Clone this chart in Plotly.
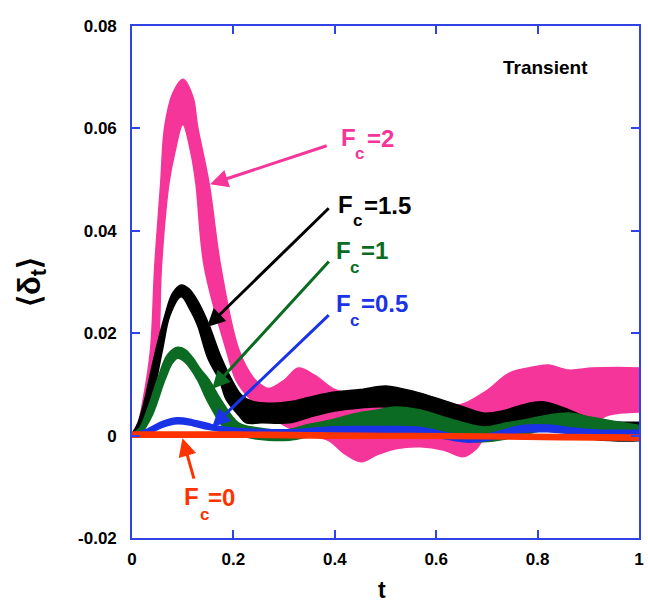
import plotly.graph_objects as go

# ---- envelopes of <delta_t> for each critical force Fc (upper / lower edges) ----
fc2_up_t = [0, 0.012, 0.022, 0.0365, 0.0449, 0.0566, 0.0645, 0.0807, 0.1003, 0.12, 0.1295, 0.152, 0.175, 0.211, 0.24, 0.256, 0.27, 0.3, 0.328, 0.36, 0.4, 0.451, 0.49, 0.55, 0.59, 0.646, 0.7, 0.744, 0.797, 0.822, 0.861, 0.908, 0.96, 1.0]
fc2_up_v = [0, 0.0025, 0.007, 0.0167, 0.033, 0.0493, 0.0603, 0.0669, 0.0696, 0.0662, 0.0603, 0.0493, 0.033, 0.0167, 0.0112, 0.0098, 0.0092, 0.0108, 0.0132, 0.0118, 0.009, 0.0075, 0.0068, 0.0068, 0.0069, 0.006, 0.0088, 0.0122, 0.0135, 0.0138, 0.0128, 0.0132, 0.0133, 0.0132]
fc2_lo_t = [0, 0.025, 0.034, 0.0514, 0.058, 0.0729, 0.084, 0.1003, 0.1165, 0.126, 0.1426, 0.186, 0.205, 0.23, 0.26, 0.3, 0.35, 0.387, 0.419, 0.452, 0.484, 0.523, 0.569, 0.614, 0.654, 0.68, 0.693, 0.745, 0.8, 0.86, 0.91, 0.94, 1.0]
fc2_lo_v = [0, 0.0025, 0.007, 0.0167, 0.033, 0.0493, 0.0551, 0.0607, 0.0551, 0.0493, 0.033, 0.0167, 0.0109, 0.0075, 0.005, 0.002, 0.0, -0.0009, -0.0035, -0.0051, -0.0037, -0.0025, -0.0022, -0.0028, -0.0041, -0.0025, -0.0009, 0.0004, 0.001, 0.0014, 0.0025, 0.004, 0.0046]

fc15_up_t = [0, 0.012, 0.025, 0.035, 0.047, 0.065, 0.08, 0.097, 0.112, 0.13, 0.152, 0.175, 0.197, 0.217, 0.24, 0.27, 0.31, 0.35, 0.4, 0.45, 0.5, 0.53, 0.569, 0.61, 0.654, 0.693, 0.73, 0.77, 0.81, 0.85, 0.9, 0.95, 1.0]
fc15_up_v = [0.0004, 0.0025, 0.007, 0.0115, 0.0167, 0.0235, 0.0278, 0.0294, 0.0287, 0.0262, 0.0216, 0.0155, 0.0109, 0.0078, 0.0066, 0.0063, 0.0066, 0.0075, 0.0085, 0.009, 0.0097, 0.0092, 0.0083, 0.007, 0.0056, 0.0044, 0.0048, 0.006, 0.0066, 0.0055, 0.0035, 0.0027, 0.0026]
fc15_lo_t = [0, 0.02, 0.035, 0.06, 0.075, 0.097, 0.115, 0.129, 0.15, 0.172, 0.186, 0.21, 0.225, 0.256, 0.31, 0.35, 0.4, 0.45, 0.5, 0.55, 0.6, 0.654, 0.693, 0.75, 0.8, 0.85, 0.9, 0.95, 1.0]
fc15_lo_v = [0, 0.001, 0.005, 0.0167, 0.0235, 0.0271, 0.0245, 0.0216, 0.015, 0.0109, 0.007, 0.004, 0.0025, 0.0025, 0.0025, 0.0036, 0.0048, 0.0054, 0.0056, 0.0045, 0.003, 0.0017, 0.0017, 0.0022, 0.0027, 0.0015, -0.0005, -0.001, -0.001]

fc1_up_t = [0, 0.015, 0.03, 0.05, 0.07, 0.09, 0.105, 0.12, 0.135, 0.152, 0.176, 0.21, 0.25, 0.28, 0.31, 0.35, 0.39, 0.45, 0.484, 0.52, 0.569, 0.61, 0.654, 0.693, 0.74, 0.77, 0.82, 0.861, 0.9, 0.939, 1.0]
fc1_up_v = [0.0003, 0.0015, 0.005, 0.0109, 0.0158, 0.01725, 0.0168, 0.0152, 0.013, 0.0109, 0.0069, 0.0025, 0.0015, 0.0011, 0.0012, 0.0022, 0.003, 0.0045, 0.005, 0.0056, 0.005, 0.0038, 0.0025, 0.0017, 0.0025, 0.003, 0.004, 0.0044, 0.0037, 0.003, 0.002]
fc1_lo_t = [0, 0.02, 0.04, 0.065, 0.08, 0.09, 0.105, 0.129, 0.148, 0.186, 0.22, 0.27, 0.31, 0.35, 0.4, 0.484, 0.52, 0.569, 0.61, 0.654, 0.693, 0.74, 0.8, 0.861, 0.92, 1.0]
fc1_lo_v = [0, 0.0008, 0.004, 0.0109, 0.0142, 0.0151, 0.0143, 0.0109, 0.0069, 0.0011, -0.0002, -0.0009, -0.0009, -0.0002, 0.001, 0.0017, 0.0018, 0.0011, 0.0, -0.0009, -0.0012, -0.0006, 0.0008, 0.0017, 0.001, 0.0]

fc05_up_t = [0, 0.03, 0.06, 0.09, 0.12, 0.15, 0.16, 0.2, 0.26, 0.32, 0.39, 0.45, 0.5, 0.569, 0.62, 0.66, 0.7, 0.77, 0.82, 0.87, 0.92, 1.0]
fc05_up_v = [0.0003, 0.0012, 0.0027, 0.0034, 0.003, 0.0023, 0.002, 0.0014, 0.0011, 0.0011, 0.0016, 0.0017, 0.0017, 0.0015, 0.0005, -0.0002, 0.0002, 0.0019, 0.002, 0.0014, 0.001, 0.001]
fc05_lo_t = [0, 0.03, 0.06, 0.09, 0.12, 0.15, 0.2, 0.26, 0.32, 0.39, 0.45, 0.5, 0.569, 0.62, 0.66, 0.7, 0.77, 0.82, 0.87, 0.92, 1.0]
fc05_lo_v = [-0.0002, 0.0003, 0.0017, 0.0024, 0.002, 0.0013, 0.0006, 0.0002, 0.0001, 0.0005, 0.0007, 0.0007, 0.0005, -0.0006, -0.0012, -0.0009, 0.0007, 0.0008, 0.0004, 0.0001, 0.0001]

fc0_up_t = [0, 0.2, 0.4, 0.55, 0.7, 0.85, 1.0]
fc0_up_v = [0.0007, 0.0007, 0.0005, 0.0004, 0.0003, 0.0002, 0.0001]
fc0_lo_t = [0, 0.2, 0.4, 0.55, 0.7, 0.85, 1.0]
fc0_lo_v = [-0.0003, -0.0003, -0.0005, -0.0005, -0.0006, -0.0008, -0.0009]

x_ticks = [0, 0.2, 0.4, 0.6, 0.8, 1.0]
x_tick_text = ["0", "0.2", "0.4", "0.6", "0.8", "1"]
y_ticks = [-0.02, 0, 0.02, 0.04, 0.06, 0.08]
y_tick_text = ["-0.02", "0", "0.02", "0.04", "0.06", "0.08"]

PINK = "#f5359a"
BLACK = "#000000"
GREEN = "#0b6b22"
BLUE = "#1a33e6"
RED = "#ff3300"
FRAME = "#2f43e6"
FONT = "Liberation Sans, Arial, sans-serif"

# (lower t, lower v, upper t, upper v, colour, edge width)
bands = [
    (fc2_lo_t, fc2_lo_v, fc2_up_t, fc2_up_v, PINK, 1.5),
    (fc15_lo_t, fc15_lo_v, fc15_up_t, fc15_up_v, BLACK, 1.5),
    (fc1_lo_t, fc1_lo_v, fc1_up_t, fc1_up_v, GREEN, 1.5),
    (fc05_lo_t, fc05_lo_v, fc05_up_t, fc05_up_v, BLUE, 2.2),
    (fc0_lo_t, fc0_lo_v, fc0_up_t, fc0_up_v, RED, 1.5),
]

fig = go.Figure()
for lo_t, lo_v, up_t, up_v, col, w in bands:
    fig.add_trace(go.Scatter(x=lo_t, y=lo_v, mode="lines",
                             line=dict(color=col, width=w, shape="spline", smoothing=1.0),
                             showlegend=False, hoverinfo="skip", cliponaxis=False))
    fig.add_trace(go.Scatter(x=up_t, y=up_v, mode="lines", fill="tonexty", fillcolor=col,
                             line=dict(color=col, width=w, shape="spline", smoothing=1.0),
                             showlegend=False, hoverinfo="skip", cliponaxis=False))

# plot area in pixels: x 132..644, y 26..538
def px(x):
    return (x - 132) / 512.0

def py(y):
    return (538 - y) / 512.0

annotations = []

def text(x, y, s, size, color, anchor="left", angle=0):
    annotations.append(dict(xref="paper", yref="paper", x=px(x), y=py(y), text=s,
                            showarrow=False, xanchor=anchor, yanchor="middle",
                            textangle=angle, borderpad=0,
                            font=dict(family=FONT, size=size, color=color, weight="bold")))

def label(fx, fy, cx, cy, ex, ey, value, color):
    text(fx, fy, "F", 24, color)
    text(cx, cy, "c", 17, color)
    text(ex, ey, "=" + value, 24, color)

def arrow(tip_t, tip_v, tail_t, tail_v, color):
    annotations.append(dict(xref="x", yref="y", axref="x", ayref="y",
                            x=tip_t, y=tip_v, ax=tail_t, ay=tail_v, text="",
                            showarrow=True, arrowhead=2, arrowsize=1.2, arrowwidth=3,
                            arrowcolor=color, standoff=0, startstandoff=0))

arrow(0.154, 0.0491, 0.387, 0.0567, PINK)
arrow(0.148, 0.0212, 0.391, 0.0447, BLACK)
arrow(0.158, 0.0091, 0.391, 0.0343, GREEN)
arrow(0.158, 0.0017, 0.391, 0.0238, BLUE)
arrow(0.0996, -0.0005, 0.123, -0.0087, RED)

label(342.5, 137.5, 356.5, 153.5, 368, 138, "2", PINK)
label(339.5, 204, 354.5, 220.5, 365, 205, "1.5", BLACK)
label(336.5, 250.5, 351.5, 267.5, 362, 250.5, "1", GREEN)
label(336.5, 303.5, 351.5, 320.5, 362, 303.5, "0.5", BLUE)
label(184, 496.5, 199.5, 514.5, 208, 497, "0", RED)

text(550, 67, "Transient", 19, BLACK, anchor="center")
text(384, 590, "t", 23, BLACK, anchor="center")
text(31, 282, "⟨δ<sub>t</sub>⟩", 31, BLACK, anchor="center", angle=-90)

axis_common = dict(showgrid=False, zeroline=False, showline=True, linecolor=FRAME, linewidth=1.6,
                   mirror="ticks", ticks="inside", ticklen=8, tickwidth=1.5, tickcolor=FRAME,
                   tickfont=dict(family=FONT, size=17, color="black", weight="bold"))

fig.update_layout(
    width=648, height=603,
    margin=dict(l=132, r=4, t=26, b=65),
    paper_bgcolor="white", plot_bgcolor="white",
    xaxis=dict(range=[0, 1], tickvals=x_ticks, ticktext=x_tick_text, ticklabelstandoff=5, **axis_common),
    yaxis=dict(range=[-0.02, 0.08], tickvals=y_ticks, ticktext=y_tick_text, ticklabelstandoff=10, **axis_common),
    annotations=annotations,
    showlegend=False,
)

fig.write_html("out.html")
